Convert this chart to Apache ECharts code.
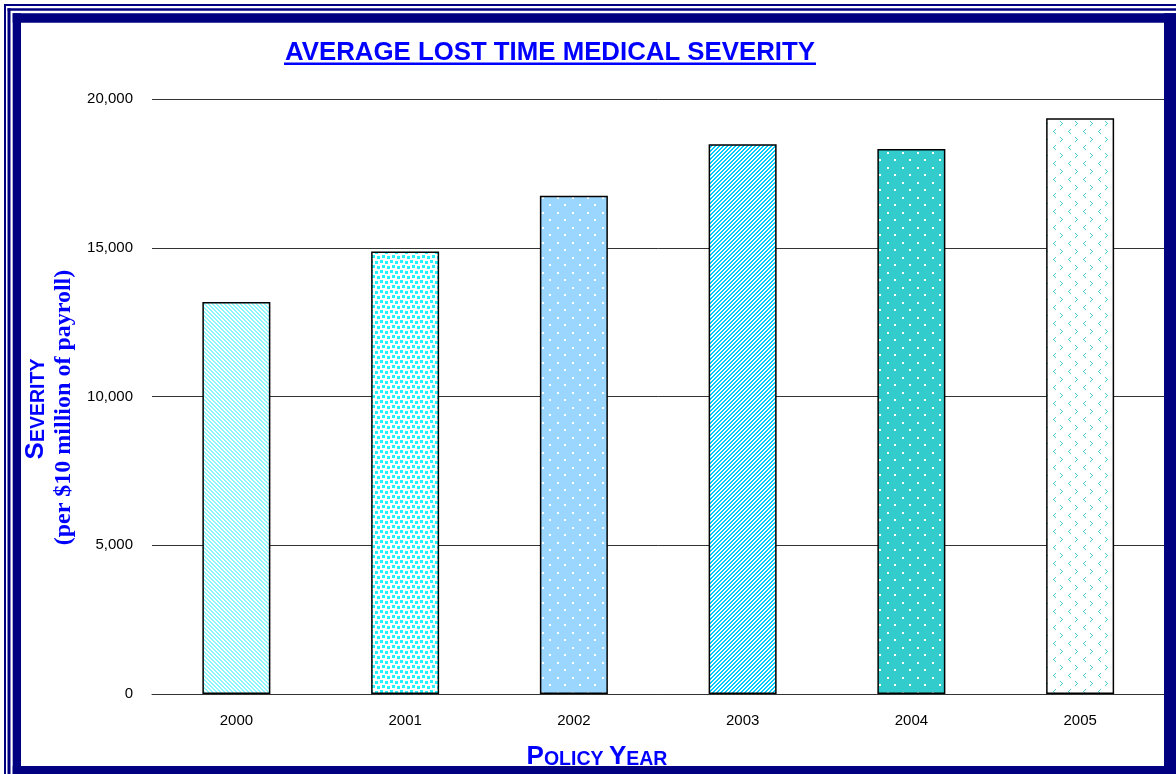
<!DOCTYPE html>
<html>
<head>
<meta charset="utf-8">
<title>Average Lost Time Medical Severity</title>
<script src="https://cdn.jsdelivr.net/npm/echarts@6/dist/echarts.min.js"></script>
<style>
  html, body { margin: 0; padding: 0; background: #fff; }
  #chart { width: 1176px; height: 774px; }
</style>
</head>
<body>
<div id="chart"></div>
<script>
const years = ['2000', '2001', '2002', '2003', '2004', '2005'];
const severity = [13180, 14870, 16750, 18480, 18320, 19350];
const yTicks = [0, 5000, 10000, 15000, 20000];

const NAVY = '#000080';
const BLUE = '#0000ff';
const SANS = '"Liberation Sans", Arial, sans-serif';
const SERIF = '"Liberation Serif", "Times New Roman", serif';

// little canvas tiles to mimic the old spreadsheet fill patterns
const tile = (w, h, bg, draw) => {
  const c = document.createElement('canvas');
  c.width = w;
  c.height = h;
  const ctx = c.getContext('2d');
  ctx.fillStyle = bg;
  ctx.fillRect(0, 0, w, h);
  draw(ctx);
  return c;
};
const dots = (ctx, color, pts) => {
  ctx.fillStyle = color;
  pts.forEach(([x, y, w, h]) => ctx.fillRect(x, y, w || 1, h || w || 1));
};
const lt = (x, y) => [[x + 2, y], [x + 1, y + 1], [x, y + 2], [x + 1, y + 3], [x + 2, y + 4]];
const gt = (x, y) => [[x, y], [x + 1, y + 1], [x + 2, y + 2], [x + 1, y + 3], [x, y + 4]];

const patterns = [
  tile(4, 4, '#fff', (ctx) => {
    for (let y = 0; y < 4; y++) {
      for (let x = 0; x < 4; x++) {
        if ((x - y + 8) % 4 < 2) dots(ctx, '#8cf7ff', [[x, y]]);
      }
    }
  }),
  tile(10, 10, '#fff', (ctx) => {
    dots(ctx, '#22f2ff', [[0, 0, 3], [5, 1, 3], [2, 5, 3], [7, 6, 3]]);
  }),
  tile(15, 15, '#9ad6fd', (ctx) => {
    dots(ctx, '#ffffff', [[2, 2, 2], [9, 9, 2]]);
  }),
  tile(4, 4, '#fff', (ctx) => {
    for (let y = 0; y < 4; y++) {
      for (let x = 0; x < 4; x++) {
        if ((x + y) % 4 < 2) dots(ctx, '#00ccff', [[x, y]]);
      }
    }
  }),
  tile(15, 15, '#33cccc', (ctx) => {
    dots(ctx, '#ffffff', [[2, 2, 2], [9, 9, 2]]);
  }),
  tile(15, 16, '#fff', (ctx) => {
    // "<" and ">" marks in staggered rows
    dots(ctx, '#4ccccc', lt(3, 1));
    dots(ctx, '#4ccccc', gt(10, 9));
  }),
];

const barData = severity.map((v, i) => ({
  value: v,
  itemStyle: { color: { image: patterns[i], repeat: 'repeat' } },
}));

const chart = echarts.init(document.getElementById('chart'));

const option = {
  backgroundColor: '#fff',
  animation: false,
  grid: { left: 152, right: 11.5, top: 99, bottom: 80, containLabel: false, outerBoundsMode: 'none' },
  xAxis: {
    type: 'category',
    data: years,
    axisTick: { show: false },
    axisLine: { show: true, lineStyle: { color: '#333', width: 1 } },
    axisLabel: { color: '#000', fontFamily: SANS, fontSize: 15, margin: 19 },
  },
  yAxis: {
    type: 'value',
    min: yTicks[0],
    max: yTicks[yTicks.length - 1],
    interval: yTicks[1] - yTicks[0],
    axisLine: { show: false },
    axisTick: { show: false },
    axisLabel: {
      color: '#000',
      fontFamily: SANS,
      fontSize: 15,
      margin: 19,
      formatter: (v) => v.toLocaleString('en-US'),
    },
    splitLine: { lineStyle: { color: '#333', width: 1 } },
  },
  series: [
    {
      type: 'bar',
      data: barData,
      barWidth: 68,
      itemStyle: { borderColor: '#000', borderWidth: 1.5 },
    },
  ],
  graphic: [
    {
      type: 'text',
      x: 550,
      y: 52.5,
      style: {
        text: 'AVERAGE LOST TIME MEDICAL SEVERITY',
        font: 'bold 25.8px ' + SANS,
        fill: BLUE,
        align: 'center',
        verticalAlign: 'middle',
      },
    },
    { type: 'rect', shape: { x: 284, y: 62.5, width: 532, height: 2.5 }, style: { fill: BLUE } },
    {
      type: 'text',
      x: 36,
      y: 409,
      rotation: Math.PI / 2,
      style: {
        text: '{a|S}{b|EVERITY}',
        align: 'center',
        verticalAlign: 'middle',
        rich: {
          a: { font: 'bold 26px ' + SANS, fill: BLUE, verticalAlign: 'bottom' },
          b: { font: 'bold 19.5px ' + SANS, fill: BLUE, verticalAlign: 'bottom' },
        },
      },
    },
    {
      type: 'text',
      x: 64,
      y: 407.5,
      rotation: Math.PI / 2,
      style: {
        text: '(per $10 million of payroll)',
        font: 'bold 24px ' + SERIF,
        fill: BLUE,
        align: 'center',
        verticalAlign: 'middle',
      },
    },
    {
      type: 'text',
      x: 597,
      y: 757,
      style: {
        text: '{a|P}{b|OLICY }{a|Y}{b|EAR}',
        align: 'center',
        verticalAlign: 'middle',
        rich: {
          a: { font: 'bold 26px ' + SANS, fill: BLUE, verticalAlign: 'bottom' },
          b: { font: 'bold 19.5px ' + SANS, fill: BLUE, verticalAlign: 'bottom' },
        },
      },
    },
    // navy frame
    { type: 'rect', z: 100, shape: { x: 4, y: 4, width: 2, height: 770 }, style: { fill: NAVY } },
    { type: 'rect', z: 100, shape: { x: 4, y: 4, width: 1172, height: 2 }, style: { fill: NAVY } },
    { type: 'rect', z: 100, shape: { x: 7.5, y: 8.3, width: 3, height: 766 }, style: { fill: NAVY } },
    { type: 'rect', z: 100, shape: { x: 7.5, y: 8.3, width: 1169, height: 2.5 }, style: { fill: NAVY } },
    { type: 'rect', z: 100, shape: { x: 12.7, y: 13.3, width: 8.3, height: 761 }, style: { fill: NAVY } },
    { type: 'rect', z: 100, shape: { x: 12.7, y: 13.3, width: 1164, height: 9.4 }, style: { fill: NAVY } },
    { type: 'rect', z: 100, shape: { x: 1164, y: 13.3, width: 12, height: 761 }, style: { fill: NAVY } },
    { type: 'rect', z: 100, shape: { x: 12.7, y: 766, width: 1164, height: 8 }, style: { fill: NAVY } },
  ],
};

chart.setOption(option);
</script>
</body>
</html>
